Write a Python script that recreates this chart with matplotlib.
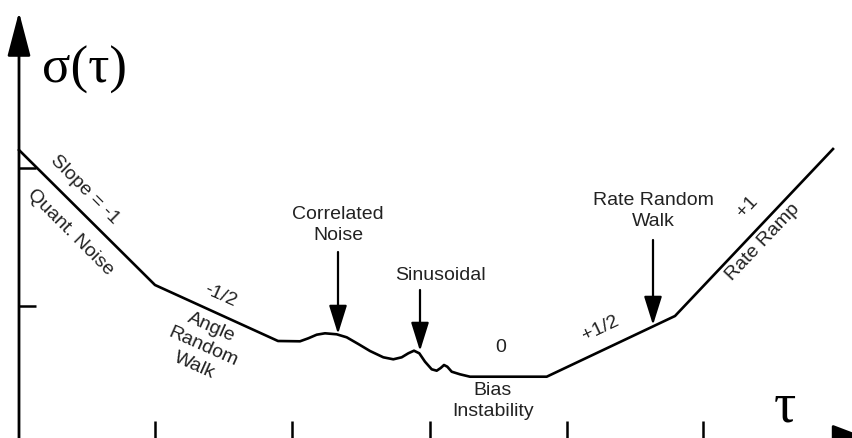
import matplotlib
matplotlib.use("Agg")
import matplotlib.pyplot as plt
from matplotlib.patches import FancyArrowPatch

# ---- data (schematic Allan deviation curve, screen-like units, y downward) ----
tau = [19, 155, 278, 300, 308.3, 316.7, 325, 336.7, 346.7, 358.3, 370, 383.3,
       393.3, 401.7, 408.3, 414, 419.3, 425, 431.7, 436.7, 440.7, 444, 447.3,
       451.7, 460, 470, 546.7, 675, 833]
sigma = [150, 285, 341, 341.3, 338.3, 334.7, 333.3, 334.3, 337.3, 344, 351,
         357.3, 359.3, 357.3, 353.3, 350.7, 353.3, 361.7, 369.3, 370.7, 368,
         365, 366.7, 371.7, 374.3, 376.7, 376.7, 316, 149]
tau_ticks = [155, 292, 430, 567, 703]
sigma_ticks = [168, 306]

# annotation arrows: (x, y_start, y_end)
arrows = [(338, 252, 334), (420, 290, 351), (653, 240, 325)]

TXT = "#222222"
FS = 14

fig = plt.figure(figsize=(8.53, 4.38), dpi=100)
ax = fig.add_axes([0, 0, 1, 1])
ax.set_xlim(0, 853)
ax.set_ylim(438, 0)
ax.axis("off")

# axes with arrows
ax.add_patch(FancyArrowPatch((19, 445), (19, 12), arrowstyle="-|>,head_length=2.1,head_width=0.55",
                             mutation_scale=13, lw=2.0, color="black", shrinkA=0, shrinkB=0))
ax.add_patch(FancyArrowPatch((19, 441), (875, 441), arrowstyle="-|>,head_length=2.1,head_width=0.8",
                             mutation_scale=13, lw=2.0, color="black", shrinkA=0, shrinkB=0))
for t in tau_ticks:
    ax.plot([t, t], [421, 440], color="black", lw=1.8, solid_capstyle="butt")
for s in sigma_ticks:
    ax.plot([19, 36], [s, s], color="black", lw=1.8, solid_capstyle="butt")

# curve
ax.plot(tau, sigma, color="black", lw=1.9, solid_joinstyle="round")

# arrows
for x, y0, y1 in arrows:
    ax.add_patch(FancyArrowPatch((x, y0), (x, y1), arrowstyle="-|>,head_length=1.6,head_width=0.5",
                                 mutation_scale=11, lw=1.6, color="black", shrinkA=0, shrinkB=0))

# labels
ax.text(85, 70, "σ(τ)", fontsize=38, family="Liberation Serif", ha="center", va="center", color="black")
ax.text(785, 408, "τ", fontsize=40, family="Liberation Serif", ha="center", va="center", color="black")

kw = dict(fontsize=FS, family="Liberation Sans", color=TXT, ha="center", va="center", linespacing=1.3)
ax.text(338, 225, "Correlated\nNoise", **kw)
ax.text(440, 276, "Sinusoidal", **kw)
ax.text(501, 348, "0", **kw)
ax.text(493, 401, "Bias\nInstability", **kw)
ax.text(653, 211, "Rate Random\nWalk", **kw)
ax.text(85, 190, "Slope = -1", rotation=-45, **kw)
ax.text(70, 232, "Quant. Noise", rotation=-45, **kw)
ax.text(220, 296, "-1/2", rotation=-24, **kw)
ax.text(203, 347, "Angle\nRandom\nWalk", rotation=-24, **kw)
ax.text(600, 329, "+1/2", rotation=25.5, **kw)
ax.text(747, 207, "+1", rotation=46.6, **kw)
ax.text(763, 242, "Rate Ramp", rotation=46.6, **kw)

fig.savefig("out.png", dpi=100)
